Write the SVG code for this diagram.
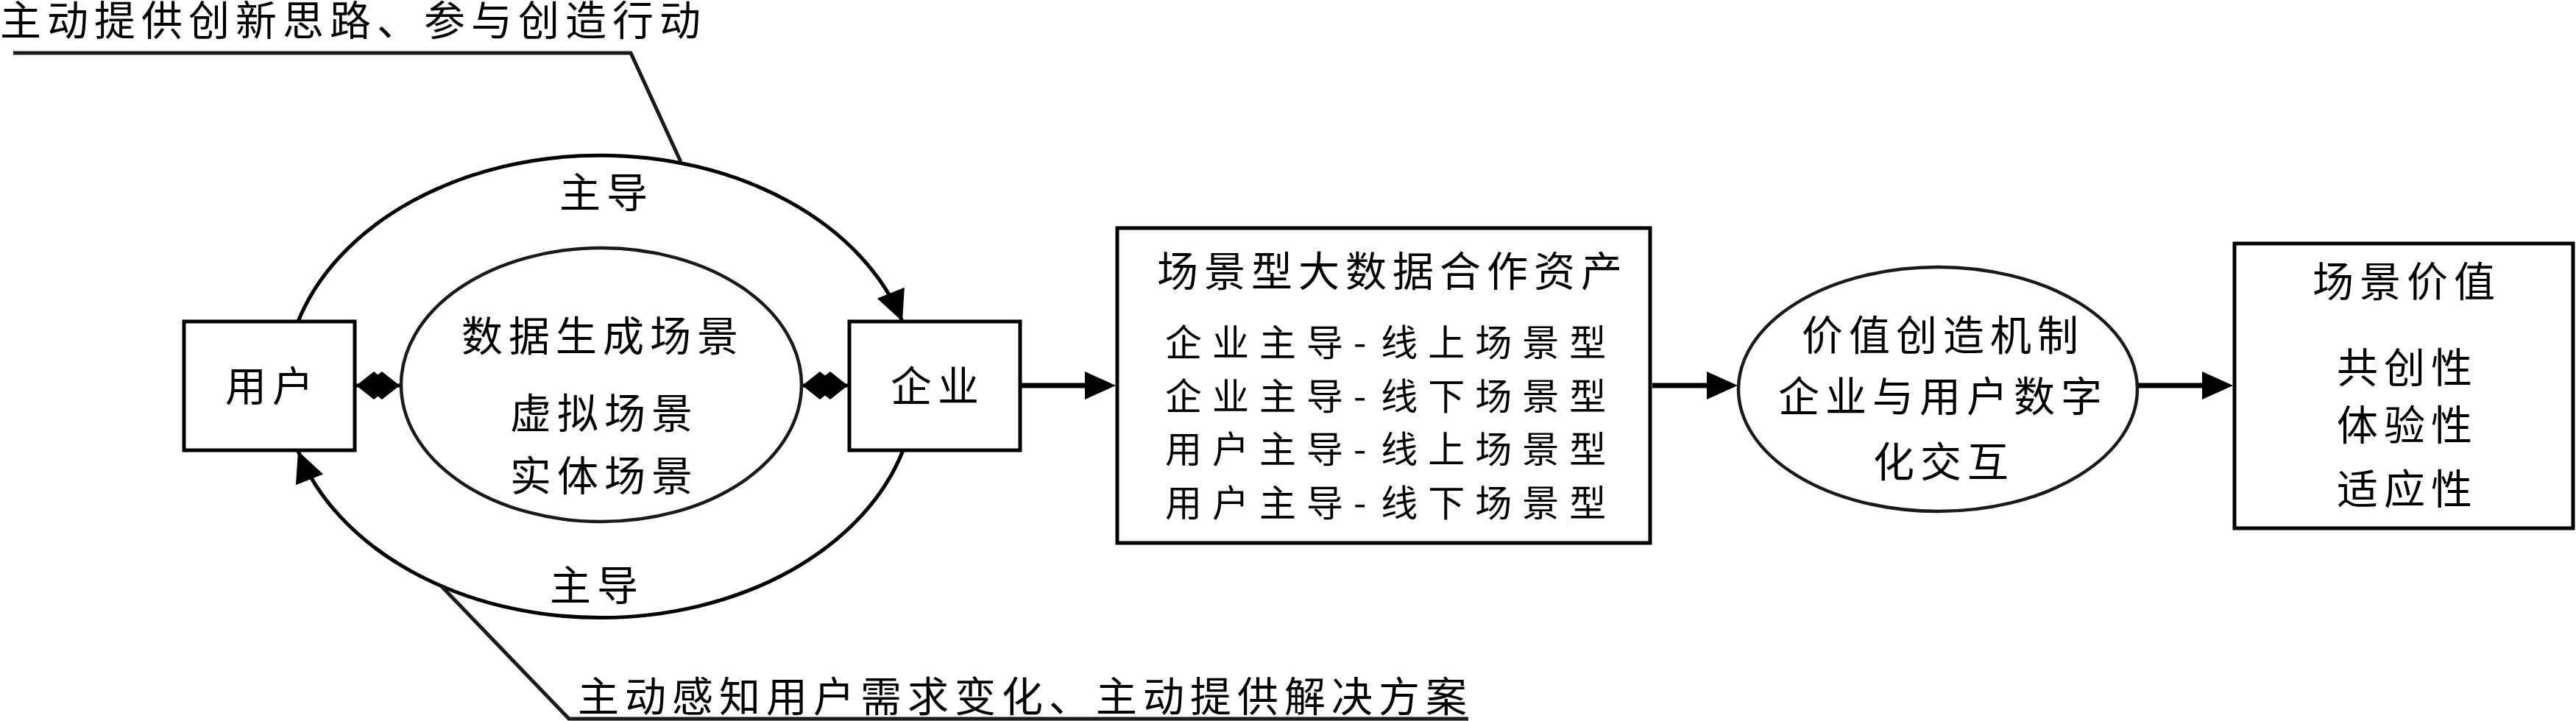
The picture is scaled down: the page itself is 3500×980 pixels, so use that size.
<svg xmlns="http://www.w3.org/2000/svg" width="3500" height="980" viewBox="0 0 3500 980">
<defs>
<style>
.t{font-family:"Noto Sans CJK SC","Noto Sans CJK JP",sans-serif;font-size:56px;letter-spacing:8px;fill:#000}
.s{font-size:50px;letter-spacing:14px}
.m{text-anchor:middle}
.box{fill:#fff;stroke:#000;stroke-width:5}
.ell{fill:#fff;stroke:#1a1a1a;stroke-width:4.5}
.arc{fill:none;stroke:#000;stroke-width:5}
.line{fill:none;stroke:#000;stroke-width:7}
.lead{fill:none;stroke:#1a1a1a;stroke-width:5}
</style>
<marker id="arrowA" viewBox="0 -20 42 40" refX="42" refY="0" markerWidth="42" markerHeight="40" markerUnits="userSpaceOnUse" orient="auto">
<path d="M0,-20 L42,0 L0,20 Z" fill="#000"/>
</marker>
<marker id="arrowH" viewBox="0 -20 42 40" refX="0" refY="0" markerWidth="42" markerHeight="40" markerUnits="userSpaceOnUse" orient="auto">
<path d="M0,-19 L42,0 L0,19 Z" fill="#000"/>
</marker>
<marker id="diamond" viewBox="0 -19 48 38" refX="48" refY="0" markerWidth="48" markerHeight="38" markerUnits="userSpaceOnUse" orient="auto-start-reverse">
<path d="M0,0 L24,-19 L48,0 L24,19 Z" fill="#000"/>
</marker>
</defs>
<rect width="3500" height="980" fill="#fff"/>

<g id="connectors">
<path class="arc" d="M405,437 A428,315 0 0 1 1226,437" marker-end="url(#arrowA)"/>
<path class="arc" d="M1227,612 A428,315 0 0 1 405,613" marker-end="url(#arrowA)"/>
<line class="arc" x1="484" y1="524" x2="543" y2="524" marker-start="url(#diamond)" marker-end="url(#diamond)"/>
<line class="arc" x1="1090" y1="524" x2="1152" y2="524" marker-start="url(#diamond)" marker-end="url(#diamond)"/>
<line class="line" x1="1386" y1="524" x2="1474" y2="524" marker-end="url(#arrowH)"/>
<line class="line" x1="2245" y1="524" x2="2319" y2="524" marker-end="url(#arrowH)"/>
<line class="line" x1="2904" y1="524" x2="2992" y2="524" marker-end="url(#arrowH)"/>
<polyline class="lead" points="18,72 857,72 925,220"/>
<polyline class="lead" points="600,797 773,977 1995,977"/>
</g>

<g id="label-top">
<text class="t" x="0" y="48">主动提供创新思路、参与创造行动</text>
</g>
<g id="label-bottom">
<text class="t" x="785" y="967">主动感知用户需求变化、主动提供解决方案</text>
</g>
<g id="label-lead-top">
<text class="t m" x="824" y="282">主导</text>
</g>
<g id="label-lead-bottom">
<text class="t m" x="811" y="816">主导</text>
</g>

<g id="node-user">
<rect class="box" x="250" y="437" width="232" height="175"/>
<text class="t m" x="370" y="545">用户</text>
</g>

<g id="node-scene">
<ellipse class="ell" cx="817" cy="523" rx="272" ry="186"/>
<text class="t m" x="819" y="477">数据生成场景</text>
<text class="t m" x="821" y="582">虚拟场景</text>
<text class="t m" x="821" y="667">实体场景</text>
</g>

<g id="node-enterprise">
<rect class="box" x="1154" y="437" width="232" height="175"/>
<text class="t m" x="1274" y="545">企业</text>
</g>

<g id="node-assets">
<rect class="box" x="1518" y="310" width="724" height="428" stroke-width="6"/>
<text class="t" x="1572" y="389">场景型大数据合作资产</text>
<text class="t s" x="1583" y="484">企业主导-<tspan dx="6">线上场景型</tspan></text>
<text class="t s" x="1583" y="557">企业主导-<tspan dx="6">线下场景型</tspan></text>
<text class="t s" x="1583" y="629">用户主导-<tspan dx="6">线上场景型</tspan></text>
<text class="t s" x="1583" y="702">用户主导-<tspan dx="6">线下场景型</tspan></text>
</g>

<g id="node-mechanism">
<ellipse class="ell" cx="2633" cy="529" rx="271" ry="166"/>
<text class="t m" x="2640" y="476">价值创造机制</text>
<text class="t m" x="2640" y="559">企业与用户数字</text>
<text class="t m" x="2641" y="648">化交互</text>
</g>

<g id="node-value">
<rect class="box" x="3036" y="331" width="460" height="387"/>
<text class="t m" x="3270" y="403">场景价值</text>
<text class="t m" x="3271" y="520">共创性</text>
<text class="t m" x="3271" y="598">体验性</text>
<text class="t m" x="3271" y="685">适应性</text>
</g>
</svg>
